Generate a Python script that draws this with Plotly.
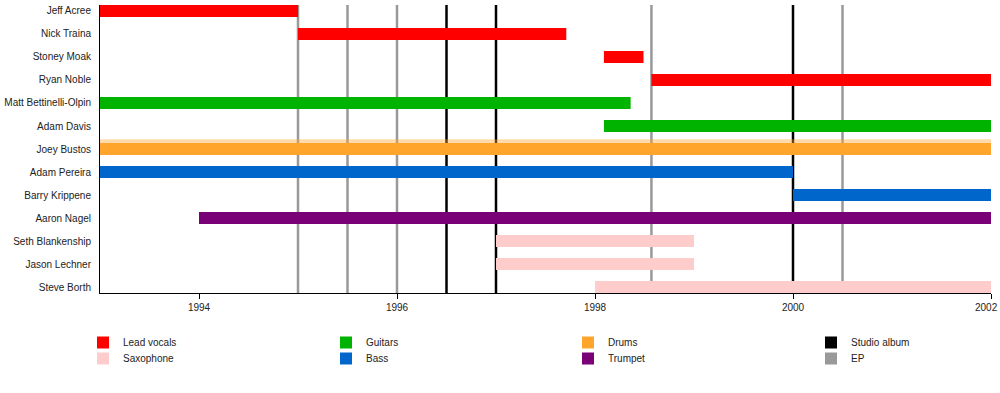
import plotly.graph_objects as go

members = ["Jeff Acree", "Nick Traina", "Stoney Moak", "Ryan Noble",
           "Matt Bettinelli-Olpin", "Adam Davis", "Joey Bustos", "Adam Pereira",
           "Barry Krippene", "Aaron Nagel", "Seth Blankenship", "Jason Lechner",
           "Steve Borth"]
starts = [1993.0, 1995.0, 1998.09, 1998.57, 1993.0, 1998.09, 1993.0, 1993.0,
          2000.0, 1994.0, 1997.0, 1997.0, 1998.0]
ends = [1995.0, 1997.71, 1998.49, 2002.0, 1998.36, 2002.0, 2002.0, 2000.0,
        2002.0, 2002.0, 1999.0, 1999.0, 2002.0]
roles = ["Lead vocals", "Lead vocals", "Lead vocals", "Lead vocals", "Guitars",
         "Guitars", "Drums", "Bass", "Bass", "Trumpet", "Saxophone", "Saxophone",
         "Saxophone"]

studio_albums = [1996.5, 1997.0, 2000.0]
eps = [1995.0, 1995.5, 1996.0, 1998.57, 2000.5]

tick_years = [1994, 1996, 1998, 2000, 2002]

role_colors = {
    "Lead vocals": "#ff0000",
    "Saxophone": "#ffcccc",
    "Guitars": "#00b300",
    "Bass": "#0066cc",
    "Drums": "#ffa52c",
    "Trumpet": "#7a0078",
    "Studio album": "#000000",
    "EP": "#999999",
}
legend_columns = [["Lead vocals", "Saxophone"], ["Guitars", "Bass"],
                  ["Drums", "Trumpet"], ["Studio album", "EP"]]
legend_left_px = [83, 326, 568, 811]
legend_top_px = [328, 344]

fig = go.Figure()

idx = list(range(len(members)))

# soft glow on the drums bar
for i, m in enumerate(members):
    if roles[i] == "Drums":
        fig.add_trace(go.Bar(
            y=[i], x=[ends[i] - starts[i]], base=[starts[i]], orientation="h",
            width=0.2, offset=-0.42,
            marker=dict(color="rgba(255,165,44,0.4)", line=dict(width=0)),
            showlegend=False, hoverinfo="skip"))

legends = {}
k = 0
for c, col in enumerate(legend_columns):
    for r, role in enumerate(col):
        lname = "legend" if k == 0 else f"legend{k + 1}"
        legends[lname] = dict(orientation="v", xref="container", yref="container",
                              xanchor="left", yanchor="top",
                              x=legend_left_px[c] / 1000, y=1 - legend_top_px[r] / 393,
                              font=dict(size=10, color="#222"), itemclick=False,
                              bgcolor="rgba(0,0,0,0)")
        k += 1
        ys = [i for i in idx if roles[i] == role]
        if role in ("Studio album", "EP"):
            fig.add_trace(go.Bar(y=[None], x=[None], orientation="h", name=role,
                                 legend=lname,
                                 marker=dict(color=role_colors[role], line=dict(width=0))))
            continue
        fig.add_trace(go.Bar(
            y=ys, x=[ends[i] - starts[i] for i in ys], base=[starts[i] for i in ys],
            orientation="h", width=0.52, name=role, legend=lname,
            marker=dict(color=role_colors[role], line=dict(width=0)),
            hovertext=[members[i] for i in ys]))

for x in studio_albums:
    fig.add_shape(type="line", x0=x, x1=x, y0=0, y1=1, xref="x", yref="paper",
                  line=dict(color=role_colors["Studio album"], width=2.5), layer="below")
for x in eps:
    fig.add_shape(type="line", x0=x, x1=x, y0=0, y1=1, xref="x", yref="paper",
                  line=dict(color=role_colors["EP"], width=2.5), layer="below")

# last tick label sits at the right edge: draw it right-aligned so it stays visible
tick_text = [str(y) for y in tick_years[:-1]] + [""]
fig.add_annotation(x=tick_years[-1], y=0, xref="x", yref="paper", text=str(tick_years[-1]),
                   showarrow=False, xanchor="right", yanchor="top", xshift=9, yshift=-7,
                   font=dict(size=10, color="#222"))

fig.update_layout(
    width=1000, height=393,
    margin=dict(l=100, r=9, t=5, b=100, autoexpand=False),
    paper_bgcolor="white", plot_bgcolor="white",
    barmode="overlay",
    font=dict(family="Liberation Sans, Arial, sans-serif", size=10, color="#222"),
    xaxis=dict(range=[1993, 2002], tickvals=tick_years, ticktext=tick_text,
               ticks="outside", ticklen=5,
               tickcolor="black", showline=True, linecolor="black", linewidth=1,
               showgrid=False, zeroline=False, automargin=False,
               tickfont=dict(size=10, color="#222")),
    yaxis=dict(range=[12.26, -0.26], tickvals=idx, ticktext=members, ticks="",
               showline=True, linecolor="black", linewidth=1, showgrid=False,
               zeroline=False, ticklabelstandoff=6, automargin=False,
               tickfont=dict(size=10, color="#222")),
    showlegend=True,
    **legends,
)

fig.write_html("out.html", config={"displayModeBar": False},
               post_script="document.body.style.margin='0';document.body.style.overflow='hidden';")
